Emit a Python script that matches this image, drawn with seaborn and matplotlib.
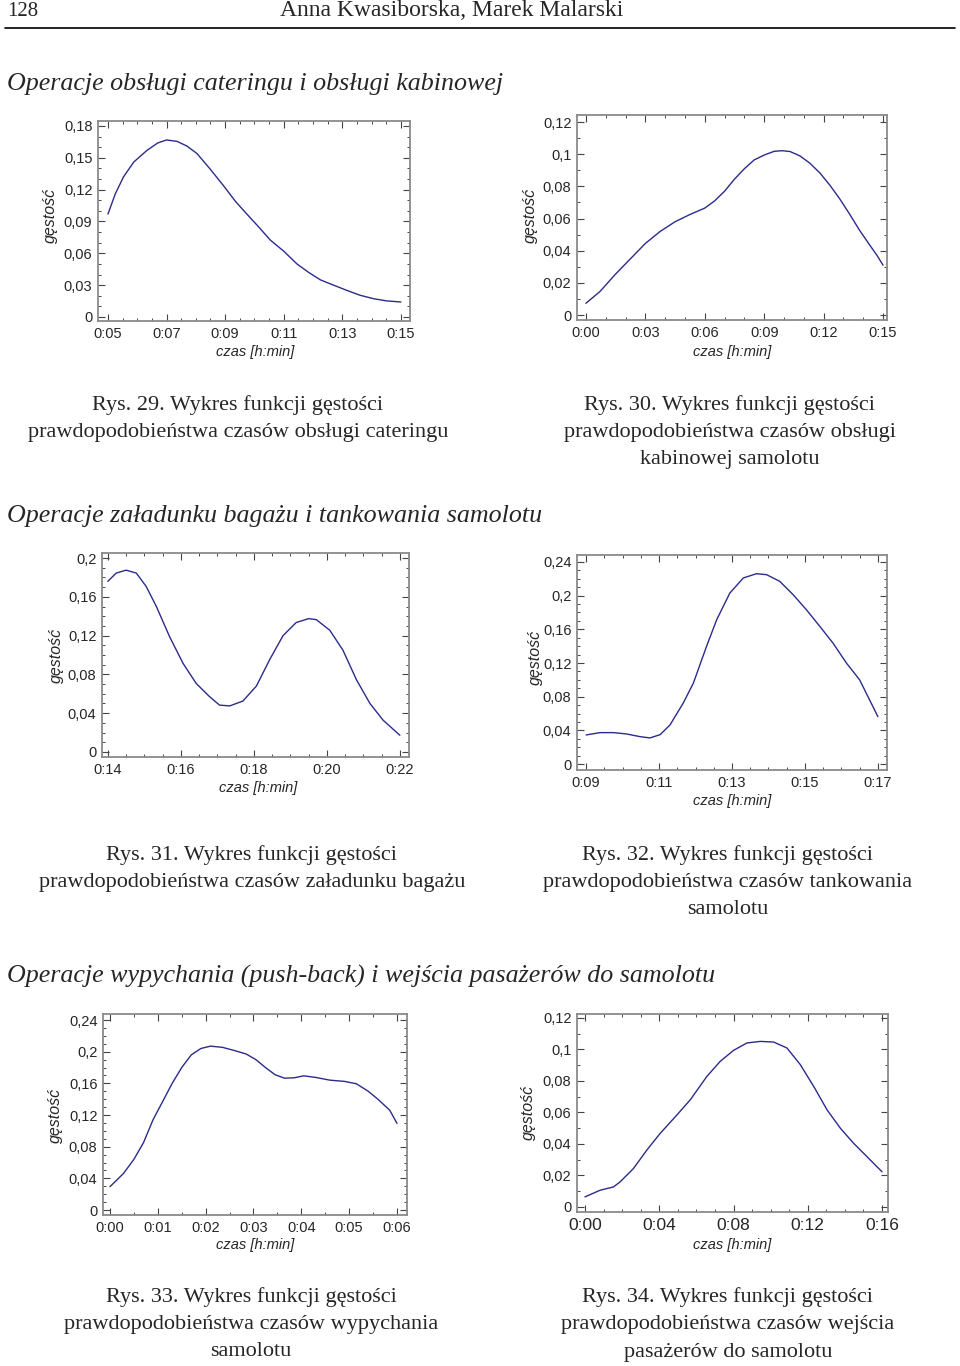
import matplotlib
matplotlib.use("Agg")
import matplotlib.pyplot as plt
from matplotlib.lines import Line2D
from matplotlib.ticker import AutoMinorLocator, FuncFormatter
import numpy as np
import pandas as pd
import seaborn as sns

W, H = 960, 1366
LINE_COLOR = "#2b2b8c"
SANS = ["Liberation Sans", "DejaVu Sans"]
SERIF = ["Liberation Serif", "DejaVu Serif"]

# --- data (x in minutes, y = density) ---
catering_x = [5.0, 5.25, 5.53, 5.88, 6.33, 6.7, 7.0, 7.36, 7.7, 8.04, 8.5, 8.95, 9.35, 9.74,
              10.14, 10.54, 11.0, 11.45, 11.85, 12.25, 12.7, 13.16, 13.6, 14.07, 14.5, 15.0]
catering_y = [0.097, 0.116, 0.132, 0.146, 0.157, 0.164, 0.1668, 0.1655, 0.161, 0.154, 0.139,
              0.1235, 0.109, 0.097, 0.085, 0.0725, 0.062, 0.050, 0.042, 0.035, 0.030, 0.025,
              0.0205, 0.0172, 0.0152, 0.0141]

cabin_x = [0.0, 0.7, 1.5, 2.25, 3.0, 3.75, 4.5, 5.25, 6.0, 6.5, 7.0, 7.5, 8.0, 8.5, 9.0, 9.5,
           9.9, 10.3, 10.8, 11.3, 11.8, 12.3, 12.8, 13.3, 13.8, 14.3, 14.7, 15.0]
cabin_y = [0.0073, 0.0145, 0.0255, 0.035, 0.0445, 0.052, 0.058, 0.0625, 0.0665, 0.071, 0.077,
           0.0845, 0.091, 0.0965, 0.0995, 0.1018, 0.1022, 0.1017, 0.099, 0.0945, 0.0885, 0.081,
           0.0725, 0.063, 0.053, 0.044, 0.037, 0.031]

baggage_x = [14.0, 14.23, 14.5, 14.78, 15.05, 15.33, 15.69, 16.06, 16.42, 16.79, 17.06, 17.34,
             17.7, 18.07, 18.43, 18.8, 19.16, 19.5, 19.71, 20.08, 20.44, 20.81, 21.18, 21.54, 22.0]
baggage_y = [0.176, 0.1845, 0.1875, 0.1845, 0.1707, 0.150, 0.119, 0.0914, 0.0707, 0.0569, 0.0483,
             0.0475, 0.0525, 0.068, 0.095, 0.120, 0.1335, 0.1375, 0.1365, 0.1255, 0.105, 0.0745,
             0.050, 0.0328, 0.0172]

fuel_x = [9.0, 9.38, 9.75, 10.11, 10.48, 10.75, 11.03, 11.3, 11.66, 11.94, 12.3, 12.58, 12.94,
          13.31, 13.67, 13.95, 14.31, 14.68, 15.04, 15.41, 15.77, 16.14, 16.5, 17.0]
fuel_y = [0.0345, 0.0373, 0.0373, 0.0357, 0.0325, 0.031, 0.0349, 0.0464, 0.0722, 0.096, 0.1396,
          0.1714, 0.203, 0.221, 0.2261, 0.2249, 0.217, 0.201, 0.1833, 0.1634, 0.1436, 0.1198,
          0.100, 0.0563]

pushback_x = [0.0, 0.28, 0.5, 0.7, 0.9, 1.11, 1.3, 1.5, 1.7, 1.9, 2.1, 2.35, 2.6, 2.85, 3.05,
              3.25, 3.45, 3.65, 3.85, 4.05, 4.3, 4.6, 4.9, 5.15, 5.4, 5.6, 5.85, 6.0]
pushback_y = [0.0295, 0.046, 0.064, 0.085, 0.114, 0.138, 0.160, 0.180, 0.196, 0.204, 0.207,
              0.2055, 0.2015, 0.197, 0.190, 0.180, 0.171, 0.1665, 0.167, 0.1695, 0.1675, 0.164,
              0.1625, 0.1595, 0.150, 0.140, 0.126, 0.1095]

boarding_x = [0.0, 0.81, 1.53, 1.89, 2.61, 3.33, 4.05, 4.95, 5.67, 6.56, 7.28, 8.0, 8.72, 9.44,
              10.16, 10.88, 11.6, 12.32, 13.04, 13.76, 14.47, 15.19, 16.0]
boarding_y = [0.0064, 0.0106, 0.0127, 0.0159, 0.0244, 0.0361, 0.0467, 0.0584, 0.068, 0.0828,
              0.0924, 0.0994, 0.1041, 0.1051, 0.1047, 0.1009, 0.0903, 0.0765, 0.0616, 0.0499,
              0.0404, 0.0319, 0.0223]

sns.set_style("ticks")
plt.rcParams["font.family"] = SANS


def px(x, y):
    return x / W, 1 - y / H


def add_panel(fig, box, xs, ys, xlim, ylim, xticks, yticks, xminor, yminor,
              ylab_pos, xlab_pos, xfs=10.5):
    left, top, right, bottom = box
    ax = fig.add_axes([left / W, 1 - bottom / H, (right - left) / W, (bottom - top) / H])
    df = pd.DataFrame({"czas": xs, "gestosc": ys})
    sns.lineplot(data=df, x="czas", y="gestosc", ax=ax, color=LINE_COLOR, lw=1.0)
    ax.set_xlim(*xlim)
    ax.set_ylim(*ylim)
    ax.set_xticks(xticks)
    ax.set_yticks(yticks)
    ax.xaxis.set_minor_locator(AutoMinorLocator(xminor))
    ax.yaxis.set_minor_locator(AutoMinorLocator(yminor))
    ax.xaxis.set_major_formatter(FuncFormatter(lambda v, p: f"0:{int(round(v)):02d}"))
    ax.yaxis.set_major_formatter(
        FuncFormatter(lambda v, p: ("0" if abs(v) < 1e-9 else f"{round(v, 3):g}".replace(".", ","))))
    ax.tick_params(which="both", direction="in", top=True, right=True, color="#444444")
    ax.tick_params(which="major", length=5, width=0.8)
    ax.tick_params(which="minor", length=2.5, width=0.7)
    ax.tick_params(axis="y", labelsize=10.5, pad=4)
    ax.tick_params(axis="x", labelsize=xfs, pad=4)
    for s in ax.spines.values():
        s.set_color("#8a8a8a")
        s.set_linewidth(1.3)
    ax.set_ylabel("gęstość", fontsize=11.5, style="italic", va="center")
    ax.set_xlabel("czas [h:min]", fontsize=10.5, style="italic", va="center")
    ax.yaxis.set_label_coords(*px(*ylab_pos), transform=fig.transFigure)
    ax.xaxis.set_label_coords(*px(*xlab_pos), transform=fig.transFigure)
    return ax


fig = plt.figure(figsize=(W / 100, H / 100), dpi=100)

# page header
fig.text(*px(7, 11), "128", family=SERIF, fontsize=15, va="center", ha="left")
fig.text(*px(452, 11), "Anna Kwasiborska, Marek Malarski", family=SERIF, fontsize=17,
         va="center", ha="center")
fig.add_artist(Line2D([5 / W, 955 / W], [1 - 28 / H, 1 - 28 / H], color="black", lw=1.2))

headings = [
    (84, "Operacje obsługi cateringu i obsługi kabinowej"),
    (516, "Operacje załadunku bagażu i tankowania samolotu"),
    (976, "Operacje wypychania (push-back) i wejścia pasażerów do samolotu"),
]
for y, t in headings:
    fig.text(*px(7, y), t, family=SERIF, style="italic", fontsize=18.7, va="center", ha="left")

add_panel(fig, (98, 121, 410, 321), catering_x, catering_y, (4.66, 15.31), (-0.0038, 0.1847),
          np.arange(5, 16, 2), np.arange(0, 0.181, 0.03), 4, 3, (50, 215), (255, 352))
add_panel(fig, (577, 115, 887, 320), cabin_x, cabin_y, (-0.45, 15.2), (-0.0031, 0.1244),
          np.arange(0, 16, 3), np.arange(0, 0.121, 0.02), 3, 2, (530, 215), (732, 352))
add_panel(fig, (102, 553, 409, 757), baggage_x, baggage_y, (13.84, 22.25), (-0.0052, 0.2052),
          np.arange(14, 23, 2), np.arange(0, 0.201, 0.04), 4, 4, (56, 655), (258, 788))
add_panel(fig, (577, 555, 887, 770), fuel_x, fuel_y, (8.75, 17.25), (-0.0071, 0.2483),
          np.arange(9, 18, 2), np.arange(0, 0.241, 0.04), 4, 4, (535, 657), (732, 801))
add_panel(fig, (103, 1014, 407, 1215), pushback_x, pushback_y, (-0.146, 6.21), (-0.0063, 0.2476),
          np.arange(0, 7, 1), np.arange(0, 0.241, 0.04), 2, 4, (55, 1115), (255, 1245))
add_panel(fig, (577, 1014, 888, 1212), boarding_x, boarding_y, (-0.43, 16.32), (-0.0032, 0.1225),
          np.arange(0, 17, 4), np.arange(0, 0.121, 0.02), 4, 2, (528, 1112), (732, 1245), xfs=12.5)

captions = [
    (238, 405, ["Rys. 29. Wykres funkcji gęstości",
                "prawdopodobieństwa czasów obsługi cateringu"]),
    (730, 405, ["Rys. 30. Wykres funkcji gęstości",
                "prawdopodobieństwa czasów obsługi",
                "kabinowej samolotu"]),
    (252, 855, ["Rys. 31. Wykres funkcji gęstości",
                "prawdopodobieństwa czasów załadunku bagażu"]),
    (728, 855, ["Rys. 32. Wykres funkcji gęstości",
                "prawdopodobieństwa czasów tankowania",
                "samolotu"]),
    (251, 1297, ["Rys. 33. Wykres funkcji gęstości",
                 "prawdopodobieństwa czasów wypychania",
                 "samolotu"]),
    (728, 1297, ["Rys. 34. Wykres funkcji gęstości",
                 "prawdopodobieństwa czasów wejścia",
                 "pasażerów do samolotu"]),
]
for cx, cy, lines in captions:
    for i, line in enumerate(lines):
        fig.text(*px(cx, cy + 27.5 * i), line, family=SERIF, fontsize=16, va="center", ha="center")

fig.savefig("out.png", dpi=100, facecolor="white")
